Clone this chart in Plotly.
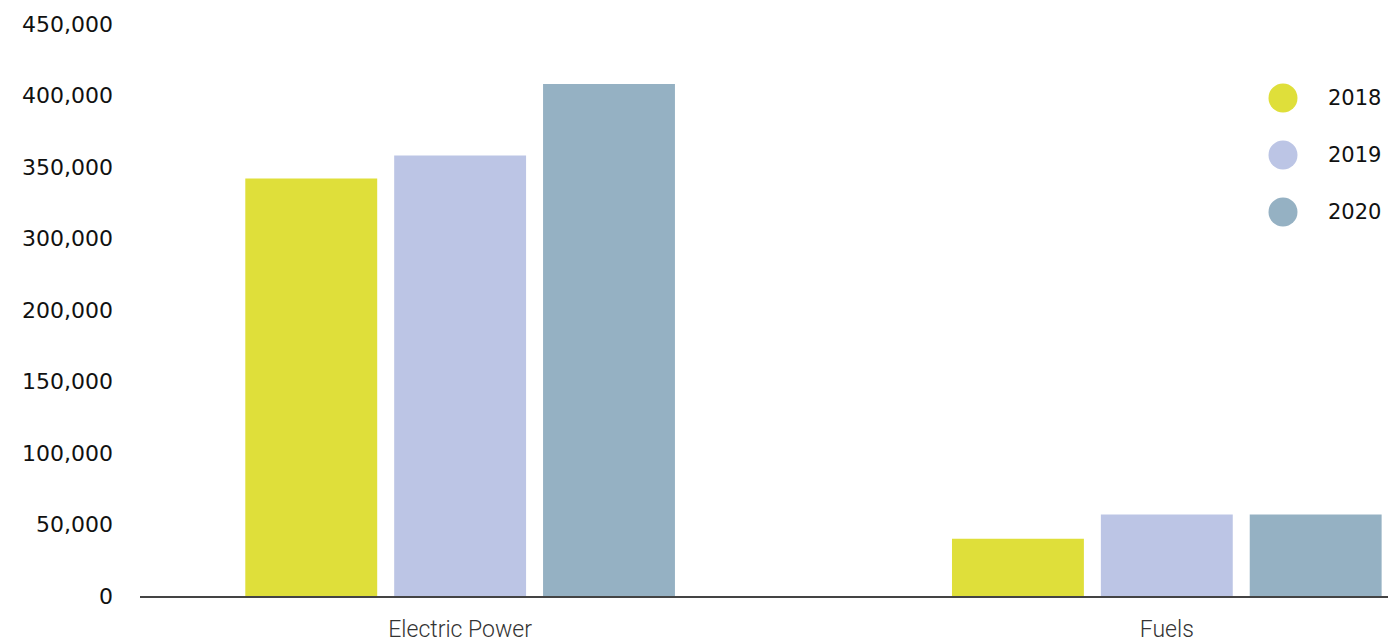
import plotly.graph_objects as go

categories = ["Electric Power", "Fuels"]
years = ["2018", "2019", "2020"]
values_2018 = [292000, 40000]
values_2019 = [308000, 57000]
values_2020 = [358000, 57000]
colors = ["#DFDF3A", "#BCC5E5", "#95B1C3"]
tick_vals = [0, 50000, 100000, 150000, 200000, 250000, 300000, 350000, 400000]
tick_text = ["0", "50,000", "100,000", "150,000", "200,000", "300,000", "350,000", "400,000", "450,000"]

series = [values_2018, values_2019, values_2020]

W, H = 1388, 643
ML, MR, MT, MB = 140, 0, 24, 47

fig = go.Figure()
for yr, vals, col in zip(years, series, colors):
    fig.add_trace(go.Bar(x=categories, y=vals, name=yr, marker=dict(color=col, line=dict(width=0)),
                         showlegend=False))

# custom legend (large circles)
pw = W - ML - MR
ph = H - MT - MB
leg_y_px = [98, 155, 212]
shapes = []
annotations = []
for yr, col, py in zip(years, colors, leg_y_px):
    xp = (1283 - ML) / pw
    yp = (H - MB - py) / ph
    shapes.append(dict(type="circle", xref="paper", yref="paper", xsizemode="pixel", ysizemode="pixel",
                       xanchor=xp, yanchor=yp, x0=-14.5, x1=14.5, y0=-14.5, y1=14.5,
                       fillcolor=col, line=dict(width=0)))
    annotations.append(dict(x=(1383 - ML) / pw, y=yp, xref="paper", yref="paper", text=yr,
                            showarrow=False, xanchor="right", yanchor="middle",
                            font=dict(family="DejaVu Sans", size=21, color="#111111")))

fig.update_layout(
    width=W, height=H,
    margin=dict(l=ML, r=MR, t=MT, b=MB, autoexpand=False),
    plot_bgcolor="white", paper_bgcolor="white",
    barmode="group", bargap=0.368, bargroupgap=0.114,
    shapes=shapes, annotations=annotations,
    xaxis=dict(type="category", range=[-0.453, 1.313], showgrid=False, zeroline=False,
               showline=True, linecolor="#444444", linewidth=2, ticks="", automargin=False,
               ticklabelstandoff=11,
               tickfont=dict(family="Roboto", size=23, color="#333333", weight=300)),
    yaxis=dict(range=[0, 400000], tickvals=tick_vals, ticktext=tick_text, showgrid=False,
               zeroline=False, showline=False, ticks="", ticklabelstandoff=26, automargin=False,
               tickfont=dict(family="DejaVu Sans", size=22, color="#111111")),
)

fig.write_html("out.html", config={"displayModeBar": False},
               post_script="document.body.style.margin='0px';document.body.style.overflow='hidden';")
